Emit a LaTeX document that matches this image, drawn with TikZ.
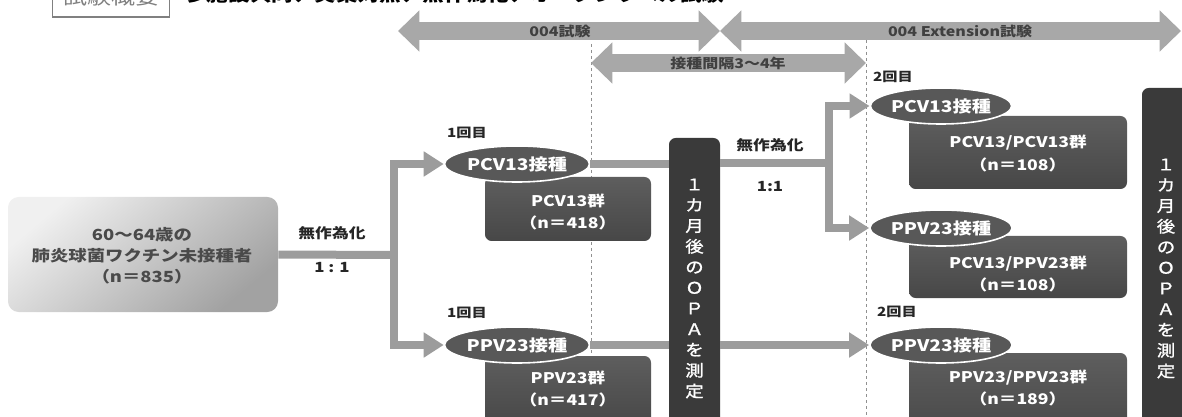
\documentclass[tikz,border=0pt]{standalone}
\usepackage{fontspec}
\setmainfont{Noto Sans CJK JP}[FakeStretch=1.2]
\newfontfamily\opafont{Noto Sans CJK JP}[FakeStretch=1.15,FakeBold=1.2]
\usetikzlibrary{arrows.meta,shapes.geometric}
\definecolor{barc}{HTML}{9C9C9C}
\definecolor{topc}{HTML}{A8A8A8}
\definecolor{ellc}{HTML}{585858}
\definecolor{grptop}{HTML}{5E5E5E}
\definecolor{grpbot}{HTML}{474747}
\definecolor{opac}{HTML}{3A3A3A}
\definecolor{lboxtop}{HTML}{F0F0F0}
\definecolor{lboxbot}{HTML}{A2A2A2}
\definecolor{ltxt}{HTML}{4A4A4A}
\definecolor{dashc}{HTML}{909090}
\definecolor{titlegray}{HTML}{808080}
\begin{document}
\begin{tikzpicture}[x=0.75pt,y=-0.75pt,
  bar/.style={draw=barc,line width=6pt},
  bararrow/.style={bar,-{Triangle[length=15pt,width=18pt]}},
  toparrow/.style={draw=topc,line width=14pt,{Triangle[length=16pt,width=30pt]}-{Triangle[length=16pt,width=30pt]}},
  toplabel/.style={font=\bfseries\fontsize{10}{12}\selectfont,text=black!75},
  vdash/.style={draw=dashc,line width=0.6pt,dash pattern=on 2.5pt off 2pt},
  ell/.style={ellipse,fill=ellc,draw=white,line width=1.2pt,minimum height=27pt,inner sep=0pt,text=white,font=\bfseries\fontsize{12}{14}\selectfont},
  grp/.style={rounded corners=5pt,top color=grptop,bottom color=grpbot,inner sep=0pt},
  grptext/.style={text=white,align=center,font=\bfseries\fontsize{11}{17}\selectfont},
  opa/.style={rounded corners=5pt,fill=opac,inner sep=0pt,text=white,align=center,font=\opafont\fontsize{12}{15.5}\selectfont},
  small/.style={font=\bfseries\fontsize{9.5}{11}\selectfont,text=black!85},
  rnd/.style={font=\bfseries\fontsize{10.5}{12}\selectfont,text=black!85}
]
\clip (0,0) rectangle (1182,417);
% dashed period lines
\coordinate (d1t) at (591,44); \coordinate (d1b) at (591,417);
\coordinate (d2t) at (866,40); \coordinate (d2b) at (866,417);
\draw[vdash] (d1t) -- (d1b);
\draw[vdash] (d2t) -- (d2b);
% title
\node[draw=black!50,line width=0.8pt,minimum width=88pt,minimum height=30pt,inner sep=0pt,text=titlegray,font=\fontsize{15}{15}\selectfont] (tbox) at (111,-3) {試験概要};
\node[font=\bfseries\fontsize{13.5}{15}\selectfont,anchor=west,inner sep=0pt] (title) at (185,-5) {多施設共同、実薬対照、無作為化、オープンラベル試験};
% top arrows
\coordinate (t1a) at (398,31); \coordinate (t1b) at (720,31);
\coordinate (t2a) at (720,31); \coordinate (t2b) at (1181,31);
\coordinate (t3a) at (591,63); \coordinate (t3b) at (866,63);
\draw[toparrow] (t1a) -- (t1b);
\draw[toparrow] (t2a) -- (t2b);
\draw[toparrow] (t3a) -- (t3b);
\node[toplabel] (l1) at (560,31) {004試験};
\node[toplabel] (l2) at (960,31) {004 Extension試験};
\node[toplabel] (l3) at (728,63) {接種間隔3〜4年};
% population
\node[rounded corners=8pt,top color=lboxtop,bottom color=lboxbot,shading angle=40,minimum width=202.5pt,minimum height=86.25pt,inner sep=0pt] (pop) at (143,254.5) {};
\node[align=center,text=ltxt,font=\bfseries\fontsize{11.5}{15.75}\selectfont] (popt) at (142,256) {60〜64歳の\\肺炎球菌ワクチン未接種者\\（n＝835）};
% group boxes
\node[grp,minimum width=124.5pt,minimum height=48pt] (g1) at (568,209) {};
\node[grp,minimum width=124.5pt,minimum height=52.5pt] (g2) at (568,391) {};
\node[grp,minimum width=163.5pt,minimum height=54.75pt] (g3) at (1018,152.5) {};
\node[grp,minimum width=163.5pt,minimum height=46.5pt] (g4) at (1018,267) {};
\node[grp,minimum width=163.5pt,minimum height=65.25pt] (g5) at (1018,396.5) {};
\node[grptext] (g1t) at (568,212) {PCV13群\\（n＝418）};
\node[grptext] (g2t) at (568,389) {PPV23群\\（n＝417）};
\node[grptext] (g3t) at (1018,153.5) {PCV13/PCV13群\\（n＝108）};
\node[grptext] (g4t) at (1018,274) {PCV13/PPV23群\\（n＝108）};
\node[grptext] (g5t) at (1018,388) {PPV23/PPV23群\\（n＝189）};
% ellipses
\node[ell,minimum width=108.75pt] (e1) at (517,164) {PCV13接種};
\node[ell,minimum width=108.75pt] (e2) at (517,345) {PPV23接種};
\node[ell,minimum width=105pt] (e3) at (941,106) {PCV13接種};
\node[ell,minimum width=105pt] (e4) at (941,228) {PPV23接種};
\node[ell,minimum width=105pt] (e5) at (941,345) {PPV23接種};
% OPA boxes
\node[opa,minimum width=38.25pt,minimum height=225.75pt] (o1) at (694.5,288.5) {１\\カ\\月\\後\\の\\Ｏ\\Ｐ\\Ａ\\を\\測\\定};
\node[opa,minimum width=36pt,minimum height=270.75pt] (o2) at (1166,268.5) {１\\カ\\月\\後\\の\\Ｏ\\Ｐ\\Ａ\\を\\測\\定};
% labels
\node[small] (n1) at (467,133) {1回目};
\node[small] (n2) at (467,313) {1回目};
\node[small] (n3) at (893,77) {2回目};
\node[small] (n4) at (897,312) {2回目};
\node[rnd] (r1) at (332,233) {無作為化};
\node[rnd] (r1b) at (332,268) {1 : 1};
\node[rnd] (r2) at (770,145) {無作為化};
\node[rnd] (r2b) at (770,187) {1:1};
% connectors
\coordinate (s1) at (394,255);
\draw[bar] (pop.east) -- (s1);
\draw[bararrow] (s1) |- (e1.west);
\draw[bararrow] (s1) |- (e2.west);
\draw[bar] (e1.east) -- (e1.east -| o1.west);
\draw[bar] (e2.east) -- (e2.east -| o1.west);
\coordinate (s2) at (829,163);
\draw[bar] (o1.east |- s2) -- (s2);
\draw[bararrow] (s2) |- (e3.west);
\draw[bararrow] (s2) |- (e4.west);
\draw[bararrow] (o1.east |- e2.east) -- (e5.west);
\end{tikzpicture}
\end{document}
